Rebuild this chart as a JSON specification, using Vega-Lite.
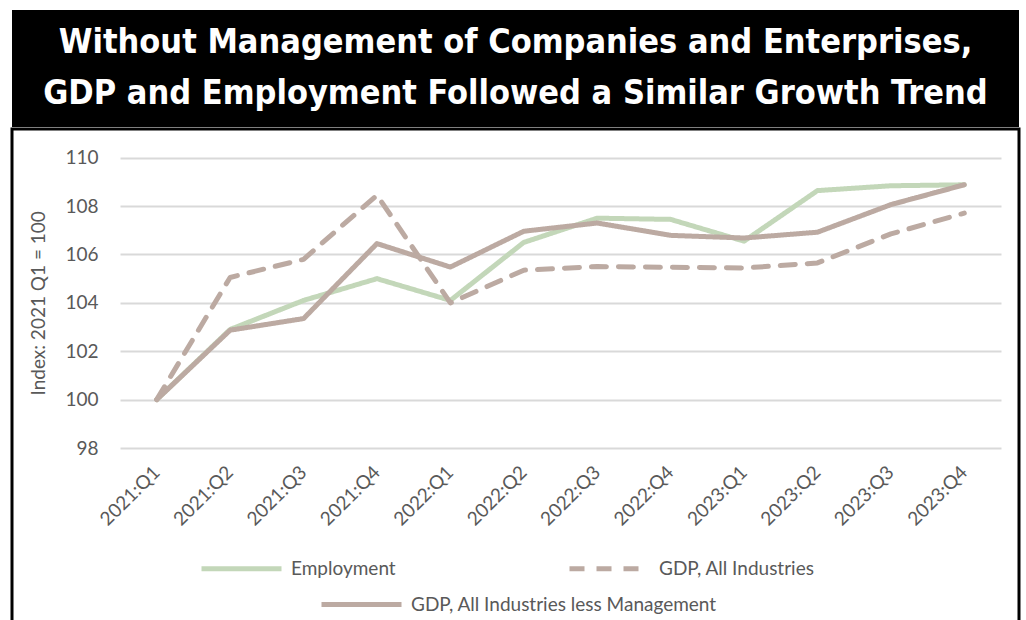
{
  "$schema": "https://vega.github.io/schema/vega-lite/v6.json",
  "padding": {"left": 10, "top": 10, "right": 9, "bottom": 0},
  "spacing": 0,
  "background": "white",
  "config": {"view": {"stroke": null}, "font": "Lato"},
  "datasets": {
    "series": [
      {"q": "2021:Q1", "series": "Employment", "grp": "Employment", "value": 100},
      {"q": "2021:Q2", "series": "Employment", "grp": "Employment", "value": 102.9},
      {"q": "2021:Q3", "series": "Employment", "grp": "Employment", "value": 104.1},
      {"q": "2021:Q4", "series": "Employment", "grp": "Employment", "value": 105.0},
      {"q": "2022:Q1", "series": "Employment", "grp": "Employment", "value": 104.1},
      {"q": "2022:Q2", "series": "Employment", "grp": "Employment", "value": 106.5},
      {"q": "2022:Q3", "series": "Employment", "grp": "Employment", "value": 107.5},
      {"q": "2022:Q4", "series": "Employment", "grp": "Employment", "value": 107.45},
      {"q": "2023:Q1", "series": "Employment", "grp": "Employment", "value": 106.55},
      {"q": "2023:Q2", "series": "Employment", "grp": "Employment", "value": 108.64},
      {"q": "2023:Q3", "series": "Employment", "grp": "Employment", "value": 108.84},
      {"q": "2023:Q4", "series": "Employment", "grp": "Employment", "value": 108.88},
      {"q": "2021:Q1", "series": "GDP, All Industries", "grp": "GDP, All Industries", "value": 100},
      {"q": "2021:Q2", "series": "GDP, All Industries", "grp": "GDP, All Industries", "value": 105.05},
      {"q": "2021:Q3", "series": "GDP, All Industries", "grp": "GDP, All Industries", "value": 105.8},
      {"q": "2021:Q4", "series": "GDP, All Industries", "grp": "GDP, All Industries", "value": 108.45},
      {"q": "2022:Q1", "series": "GDP, All Industries", "grp": "GDP, All Industries", "value": 104.0},
      {"q": "2022:Q2", "series": "GDP, All Industries", "grp": "GDP, All Industries", "value": 105.35},
      {"q": "2022:Q3", "series": "GDP, All Industries", "grp": "GDP, All Industries", "value": 105.5},
      {"q": "2022:Q4", "series": "GDP, All Industries", "grp": "GDP, All Industries", "value": 105.47},
      {"q": "2023:Q1", "series": "GDP, All Industries", "grp": "GDP, All Industries", "value": 105.44},
      {"q": "2023:Q2", "series": "GDP, All Industries", "grp": "GDP, All Industries", "value": 105.65},
      {"q": "2023:Q3", "series": "GDP, All Industries", "grp": "GDP, All Industries", "value": 106.85},
      {"q": "2023:Q4", "series": "GDP, All Industries", "grp": "GDP, All Industries", "value": 107.71},
      {"q": "2021:Q1", "series": "GDP, All Industries less Management", "grp": "GDP, All Industries less Management", "value": 100},
      {"q": "2021:Q2", "series": "GDP, All Industries less Management", "grp": "GDP, All Industries less Management", "value": 102.87},
      {"q": "2021:Q3", "series": "GDP, All Industries less Management", "grp": "GDP, All Industries less Management", "value": 103.35},
      {"q": "2021:Q4", "series": "GDP, All Industries less Management", "grp": "GDP, All Industries less Management", "value": 106.45},
      {"q": "2022:Q1", "series": "GDP, All Industries less Management", "grp": "GDP, All Industries less Management", "value": 105.48},
      {"q": "2022:Q2", "series": "GDP, All Industries less Management", "grp": "GDP, All Industries less Management", "value": 106.96},
      {"q": "2022:Q3", "series": "GDP, All Industries less Management", "grp": "GDP, All Industries less Management", "value": 107.3},
      {"q": "2022:Q4", "series": "GDP, All Industries less Management", "grp": "GDP, All Industries less Management", "value": 106.79},
      {"q": "2023:Q1", "series": "GDP, All Industries less Management", "grp": "GDP, All Industries less Management", "value": 106.68},
      {"q": "2023:Q2", "series": "GDP, All Industries less Management", "grp": "GDP, All Industries less Management", "value": 106.92},
      {"q": "2023:Q3", "series": "GDP, All Industries less Management", "grp": "GDP, All Industries less Management", "value": 108.06},
      {"q": "2023:Q4", "series": "GDP, All Industries less Management", "grp": "GDP, All Industries less Management", "value": 108.88}
    ]
  },
  "vconcat": [
    {
      "width": 1007,
      "height": 117,
      "view": {"fill": "black", "stroke": null},
      "data": {"values": [{}]},
      "mark": {
        "type": "text",
        "text": ["Without Management of Companies and Enterprises,", "GDP and Employment Followed a Similar Growth Trend"],
        "color": "white",
        "font": "DejaVu Sans Condensed, DejaVu Sans",
        "fontWeight": "bold",
        "fontSize": 34,
        "lineHeight": 51,
        "align": "center",
        "baseline": "middle",
        "dy": -25.5
      },
      "encoding": {}
    },
    {
      "width": 1007,
      "height": 493,
      "view": {"stroke": "black", "strokeWidth": 3, "fill": "white"},
      "data": {"name": "series"},
      "mark": {"type": "line", "strokeCap": "round", "strokeJoin": "round"},
      "encoding": {
        "x": {
          "field": "q",
          "type": "nominal",
          "sort": null,
          "scale": {"type": "band", "range": [108, 989], "paddingInner": 0, "paddingOuter": 0},
          "axis": {
            "title": null,
            "orient": "bottom",
            "offset": -174,
            "labelAngle": -45,
            "labelAlign": "right",
            "labelBaseline": "middle",
            "labelFontSize": 19,
            "labelColor": "#595959",
            "labelPadding": 21,
            "ticks": false,
            "domain": false,
            "grid": false
          }
        },
        "y": {
          "field": "value",
          "type": "quantitative",
          "scale": {"domain": [98, 110], "range": [319, 28.7], "nice": false, "zero": false},
          "axis": {
            "title": "Index: 2021 Q1 = 100",
            "orient": "left",
            "offset": -108,
            "values": [98, 100, 102, 104, 106, 108, 110],
            "labelFontSize": 19,
            "labelColor": "#595959",
            "labelPadding": 22,
            "titleFontSize": 19,
            "titleFontWeight": "normal",
            "titleColor": "#595959",
            "titlePadding": 16,
            "ticks": false,
            "domain": false,
            "grid": true,
            "gridColor": "#d9d9d9",
            "gridWidth": 2
          }
        },
        "color": {
          "field": "series",
          "type": "nominal",
          "scale": {"range": ["#c3d7b9", "#bcaaa2", "#bcaaa2"]},
          "legend": {
            "orient": "none",
            "legendX": 187,
            "legendY": 546,
            "direction": "horizontal",
            "title": null,
            "values": ["Employment", "GDP, All Industries"],
            "symbolType": "M-1,0H7",
            "symbolSize": 400,
            "symbolStrokeWidth": 5,
            "labelFontSize": 19,
            "labelColor": "#595959",
            "labelOffset": 67,
            "labelLimit": 600,
            "columnPadding": 163
          }
        },
        "strokeDash": {
          "field": "series",
          "type": "nominal",
          "scale": {"range": [[1, 0], [15, 12], [1, 0]]},
          "legend": {
            "orient": "none",
            "legendX": 187,
            "legendY": 546,
            "direction": "horizontal",
            "title": null,
            "values": ["Employment", "GDP, All Industries"],
            "symbolType": "M-1,0H7",
            "symbolSize": 400,
            "symbolStrokeWidth": 5,
            "labelFontSize": 19,
            "labelColor": "#595959",
            "labelOffset": 67,
            "labelLimit": 600,
            "columnPadding": 163
          }
        },
        "strokeWidth": {
          "field": "grp",
          "type": "nominal",
          "scale": {"type": "ordinal", "range": [5, 5, 5]},
          "legend": {
            "orient": "none",
            "legendX": 307,
            "legendY": 582,
            "title": null,
            "values": ["GDP, All Industries less Management"],
            "symbolType": "M-1,0H7",
            "symbolSize": 400,
            "symbolStrokeColor": "#bcaaa2",
            "labelFontSize": 19,
            "labelColor": "#595959",
            "labelOffset": 67,
            "labelLimit": 600
          }
        }
      }
    }
  ]
}
